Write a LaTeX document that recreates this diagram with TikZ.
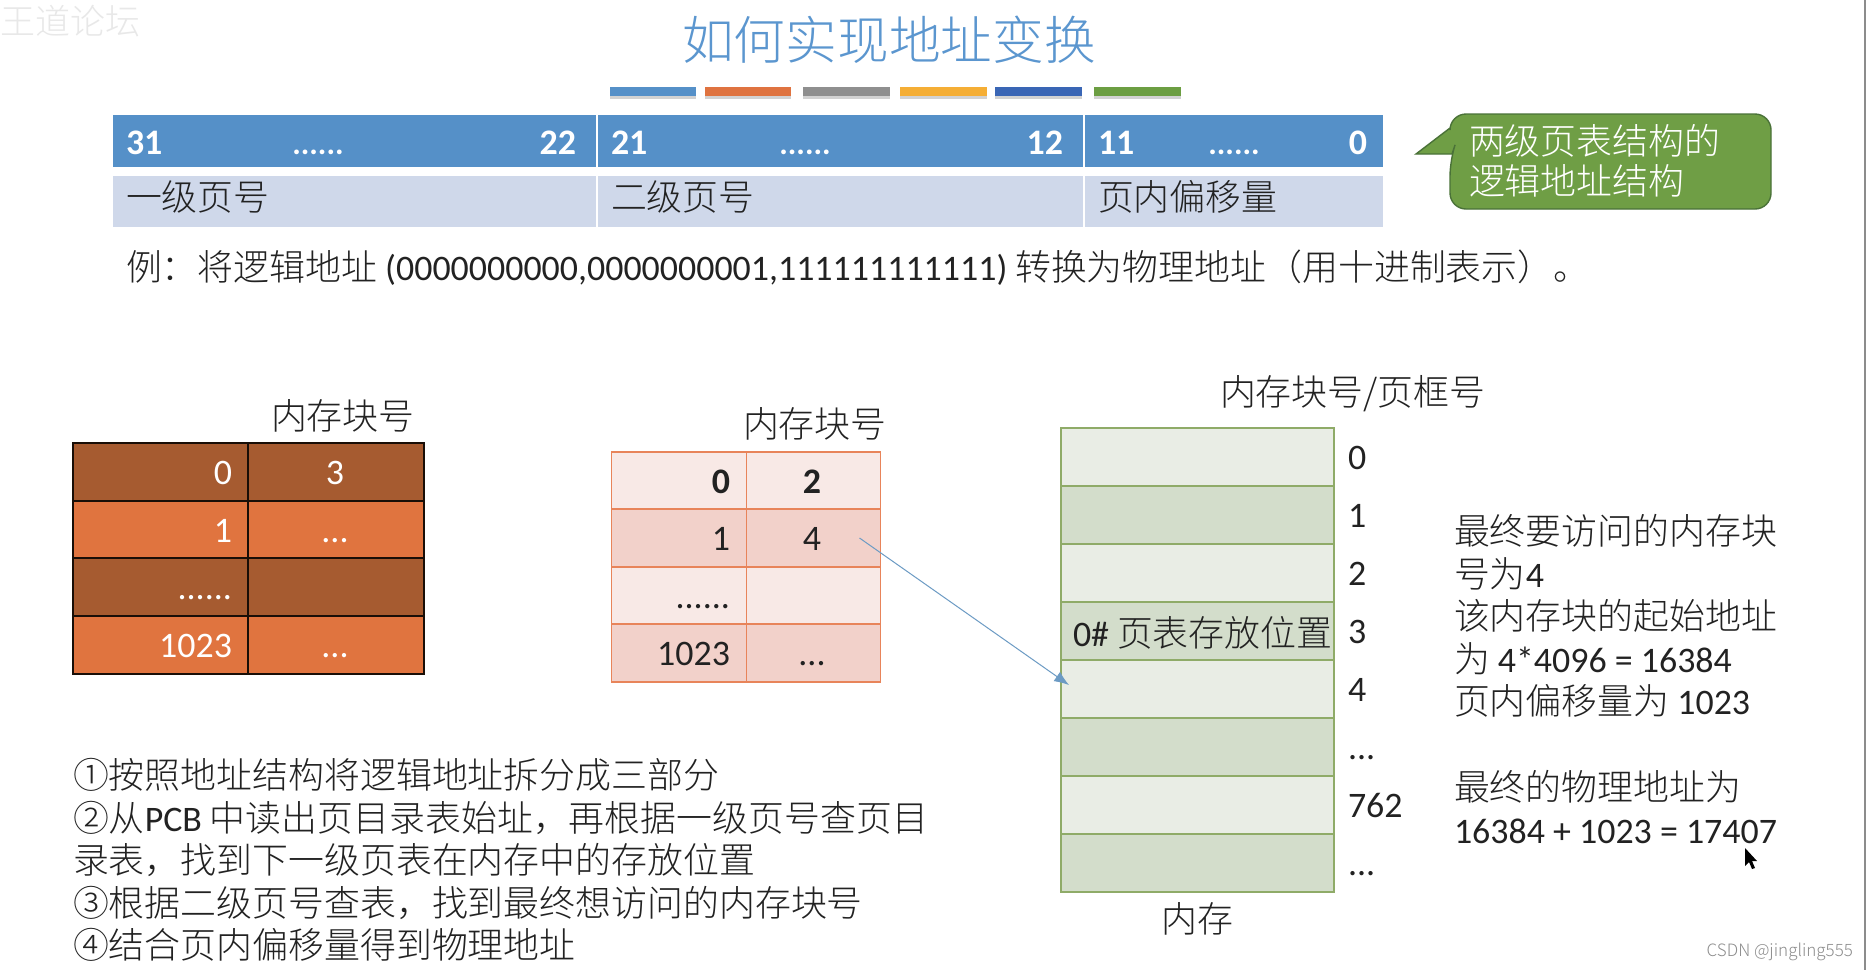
\documentclass[tikz,border=0pt]{standalone}
\usepackage{fontspec}
\setmainfont{Noto Sans CJK SC}[UprightFont=* Light,BoldFont=*]
\newfontfamily\latfont{Carlito}
\newcommand{\lat}[1]{{\latfont #1}}
\newcommand{\txtsize}{\fontsize{17.95}{21.3}\selectfont}
\newcommand{\dotslong}{......}
\newcommand{\dotsshort}{...}
\usetikzlibrary{arrows.meta, calc, positioning, shadows}
\definecolor{titleblue}{HTML}{5B96CF}
\definecolor{headblue}{HTML}{5590C8}
\definecolor{headpale}{HTML}{CFD8EA}
\definecolor{barorange}{HTML}{DF7340}
\definecolor{bargray}{HTML}{8F8F8F}
\definecolor{baryellow}{HTML}{F5AE35}
\definecolor{barnavy}{HTML}{3A66B5}
\definecolor{bargreen}{HTML}{6C9E42}
\definecolor{hintgreen}{HTML}{6F9E45}
\definecolor{hintedge}{HTML}{4A7238}
\definecolor{tabdark}{HTML}{A65B30}
\definecolor{tablight}{HTML}{E0743F}
\definecolor{tabpale}{HTML}{F8E9E6}
\definecolor{tabrose}{HTML}{F2D1CA}
\definecolor{tabedge}{HTML}{E8845A}
\definecolor{memlight}{HTML}{E9EDE5}
\definecolor{memdark}{HTML}{D3DDCB}
\definecolor{memedge}{HTML}{8FAB68}
\definecolor{ptrblue}{HTML}{6C9BC4}
\definecolor{inkgray}{HTML}{222222}

\begin{document}
\begin{tikzpicture}[
      x=0.5pt,
      y=-0.5pt,
      every node/.style={inner sep=0pt, outer sep=0pt, text=inkgray},
      plain/.style={font=\txtsize, anchor=base west},
      para/.style={font=\txtsize, anchor=west, align=left},
      colorbar/.style={anchor=north west, minimum height=4.5pt, drop shadow={shadow xshift=0pt, shadow yshift=-1.5pt, opacity=0.35}},
      headcell/.style={anchor=north west, minimum height=27pt, fill=headblue, draw=white, line width=0.7pt},
      namecell/.style={anchor=north west, minimum height=26.5pt, fill=headpale, draw=white, line width=0.7pt},
      headnum/.style={font=\txtsize\latfont\bfseries, text=white},
      celltext/.style={font=\txtsize\latfont},
      onecell/.style={minimum height=29pt, draw=black!85!tabdark, line width=0.9pt},
      twocell/.style={minimum height=29pt, draw=tabedge, line width=0.9pt},
      memblock/.style={minimum width=136.5pt, minimum height=29pt, draw=memedge, line width=0.9pt},
      ptrarrow/.style={-{Latex[length=2.6mm, width=2mm]}, line width=0.5pt, draw=ptrblue}
  ]
    \useasboundingbox (0,0) rectangle (1866,970);
    \fill[white] (0,0) rectangle (1866,970);
    \node[font=\fontsize{17.5}{21}\selectfont, text=black!9, anchor=base west] (ghost) at (0,34) {王道论坛};
    \node[font=\fontsize{25.85}{30}\selectfont, text=titleblue] (title) at (889,40) {如何实现地址变换};
    \foreach \n/\x/\w/\c in {1/610/43/headblue,2/705/43/barorange,3/803/43.5/bargray,4/900/43.5/baryellow,5/995/43.5/barnavy,6/1094/43.5/bargreen} {
      \node[colorbar, minimum width=\w pt, fill=\c] (bar\n) at (\x,87) {};
    }
    \foreach \n/\x/\w/\hi/\lo/\dx/\hx/\lbl in {1/112/242.5/31/22/318/576/一级页号,2/597/243.5/21/12/805/1063/二级页号,3/1084/150/11/0/1234/1367/页内偏移量} {
      \node[headcell, minimum width=\w pt] (head\n) at (\x,114) {};
      \node[namecell, minimum width=\w pt] (field\n) at (\x,175) {};
      \node[headnum, anchor=base west] (hi\n) at (\x+14,154) {\hi};
      \node[headnum, font=\fontsize{16}{20}\selectfont\latfont\bfseries, anchor=base] (dots\n) at (\dx,154) {\dotslong};
      \node[headnum, anchor=base east] (lo\n) at (\hx,154) {\lo};
      \node[plain] (fieldname\n) at (\x+14,210) {\lbl};
    }
    \draw[fill=hintgreen, draw=hintedge, line width=0.7pt] (1452,154) -- (1416,154) -- (1450,128)
      [rounded corners=8pt] -- (1450,114) -- (1771,114) -- (1771,209) -- (1450,209) -- (1450,160)
      [sharp corners] -- cycle;
    \node[para, text=white, font=\fontsize{17.95}{20}\selectfont] (hint) at (1469,161) {两级页表结构的\\逻辑地址结构};
    \node[plain] (example) at (126,280)
      {例：将逻辑地址 \lat{(0000000000,0000000001,111111111111)} 转换为物理地址（用十进制表示）。};
    \node[plain] (onelabel) at (271,429) {内存块号};
    \foreach \r/\y/\a/\b/\c in {0/443/0/3/tabdark,1/501/1/\dotsshort/tablight,2/558/\dotslong/{}/tabdark,3/616/1023/\dotsshort/tablight} {
      \node[onecell, minimum width=87.5pt, fill=\c] (onekey\r) at (160.5,\y+29) {};
      \node[onecell, minimum width=88pt, fill=\c] (oneval\r) at (336,\y+29) {};
      \node[celltext, text=white, anchor=base east] (onekeytxt\r) at (232,\y+41) {\a};
      \node[celltext, text=white, anchor=base] (onevaltxt\r) at (335,\y+41) {\b};
    }
    \node[plain] (twolabel) at (743,437) {内存块号};
    \foreach \r/\y/\a/\b/\c/\wt in {0/452/0/2/tabpale/\bfseries,1/509/1/4/tabrose/\mdseries,2/567/\dotslong/{}/tabpale/\mdseries,3/624/1023/\dotsshort/tabrose/\mdseries} {
      \node[twocell, minimum width=67.5pt, fill=\c] (twokey\r) at (679,\y+29) {};
      \node[twocell, minimum width=67pt, fill=\c] (twoval\r) at (813.5,\y+29) {};
      \node[celltext, font=\txtsize\latfont\wt, anchor=base east] (twokeytxt\r) at (730,\y+41) {\a};
      \node[celltext, font=\txtsize\latfont\wt, anchor=base] (twovaltxt\r) at (812,\y+41) {\b};
    }
    \node[plain] (memlabel) at (1220,405) {内存块号/页框号};
    \foreach \r/\y/\c/\t in {0/428/memlight/0,1/486/memdark/1,2/544/memlight/2,3/602/memdark/3,4/660/memlight/4,5/718/memdark/\dotsshort,6/776/memlight/762,7/834/memdark/\dotsshort} {
      \node[memblock, fill=\c] (mem\r) at (1197.5,\y+29) {};
      \node[celltext, anchor=base west] (memno\r) at (1348,\y+41) {\t};
    }
    \node[plain] (slot) at (1073,646) {\lat{0\#} 页表存放位置};
    \node[font=\txtsize, anchor=base] (memname) at (1197,932) {内存};
    \draw[ptrarrow] ([xshift=-10.5pt]twoval1.east) -- ([shift={(4pt,2pt)}]mem4.west);
    \node[para] (steps) at (73,860) {①按照地址结构将逻辑地址拆分成三部分\\②从\lat{PCB} 中读出页目录表始址，再根据一级页号查页目\\录表，找到下一级页表在内存中的存放位置\\③根据二级页号查表，找到最终想访问的内存块号\\④结合页内偏移量得到物理地址};
    \node[para] (blocknote) at (1454,616) {最终要访问的内存块\\号为\lat{4}\\该内存块的起始地址\\为 \lat{4*4096 = 16384}\\页内偏移量为 \lat{1023}};
    \node[para] (sumnote) at (1454,807) {最终的物理地址为\\\lat{16384 + 1023 = 17407}};
    \fill[black] (1745,848) -- (1745,866) -- (1749,862) -- (1752,869) -- (1755,868) -- (1752,861) -- (1757,861) -- cycle;
    \node[font=\fontsize{8.5}{10}\selectfont, text=black!45, anchor=base east] (mark) at (1853,956) {CSDN @jingling555};
    \fill[black!45] (1864,0) rectangle (1866,970);
  \end{tikzpicture}
\end{document}
